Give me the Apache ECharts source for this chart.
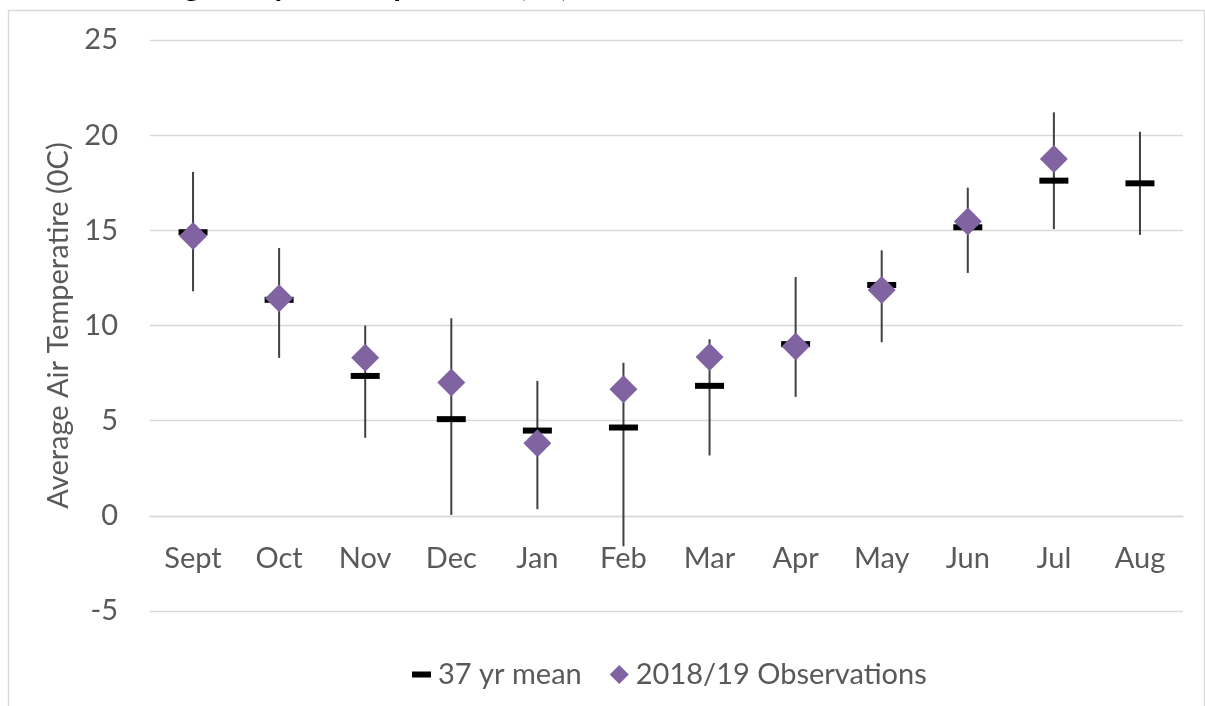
<!DOCTYPE html>
<html>
<head>
<meta charset="utf-8">
<script src="https://cdn.jsdelivr.net/npm/echarts@6/dist/echarts.min.js"></script>
<style>
html,body{margin:0;padding:0;background:#fff;}
#chart{width:1205px;height:706px;}
</style>
</head>
<body>
<div id="chart"></div>
<script>
const titleText = 'Average daily air temperature (°C)';
const yAxisName = 'Average Air Temperatire (0C)';
const categories = ['Sept','Oct','Nov','Dec','Jan','Feb','Mar','Apr','May','Jun','Jul','Aug'];
const meanValues = [14.9, 11.35, 7.35, 5.08, 4.48, 4.64, 6.83, 9.02, 12.13, 15.16, 17.61, 17.47];
const obsValues  = [14.7, 11.43, 8.3, 7.0, 3.82, 6.65, 8.35, 8.9, 11.87, 15.46, 18.75, null];
const rangeLow   = [11.8, 8.3, 4.1, 0.05, 0.35, -1.6, 3.17, 6.25, 9.12, 12.76, 15.06, 14.76];
const rangeHigh  = [18.07, 14.07, 10.0, 10.38, 7.09, 8.04, 9.28, 12.55, 13.95, 17.24, 21.2, 20.18];
const meanName = '37 yr mean';
const obsName = '2018/19 Observations';

const FONT = 'Lato';
const FS = 29;
const chart = echarts.init(document.getElementById('chart'), null, {renderer:'canvas'});
const option = {
  backgroundColor: '#fff',
  animation: false,
  graphic: [
    {type:'rect', left:6, top:8, shape:{width:1196, height:710}, style:{fill:'none', stroke:'#d9d9d9', lineWidth:1.3}, silent:true},
    {type:'text', x:104, y:-14, style:{text:titleText, font:'bold 31px ' + FONT, fill:'#000', verticalAlign:'middle'}, silent:true}
  ],
  grid: {left:150, right:22, top:40, bottom:95, containLabel:false},
  legend: {
    top: 655, left: 407,
    itemGap: 28,
    textStyle: {fontFamily: FONT, fontSize: FS, color: '#595959', padding:[0,0,0,2]},
    itemWidth: 19, itemHeight: 19,
    data: [
      {name: meanName, icon: 'path://M0,0 L19,0 L19,6 L0,6 Z'},
      {name: obsName, icon: 'diamond'}
    ]
  },
  xAxis: {
    type: 'category',
    data: categories,
    boundaryGap: true,
    offset: -95.17,
    axisLine: {show:true, onZero:false, lineStyle:{color:'#d9d9d9', width:1.3}},
    axisTick: {show:false},
    axisLabel: {fontFamily: FONT, fontSize: FS, color:'#595959', margin: 28},
    splitLine: {show:false}
  },
  yAxis: {
    type: 'value',
    min: -5, max: 25, interval: 5,
    name: yAxisName,
    nameLocation: 'middle',
    nameGap: 76,
    nameTextStyle: {fontFamily: FONT, fontSize: FS, color:'#595959'},
    axisLine: {show:false},
    axisTick: {show:false},
    axisLabel: {fontFamily: FONT, fontSize: FS, color:'#595959', margin: 32},
    splitLine: {lineStyle: {color:'#d9d9d9', width:1.3}}
  },
  series: [
    {
      type: 'custom',
      name: 'range',
      silent: true,
      z: 1,
      encode: {x:0, y:[1,2]},
      data: categories.map((c,i) => [i, rangeLow[i], rangeHigh[i]]),
      renderItem: function(params, api) {
        const x = api.value(0);
        const lo = api.coord([x, api.value(1)]);
        const hi = api.coord([x, api.value(2)]);
        return {type:'line', shape:{x1:lo[0], y1:lo[1], x2:hi[0], y2:hi[1]}, style:{stroke:'#404040', lineWidth:2}};
      }
    },
    {
      type: 'scatter',
      name: meanName,
      z: 2,
      symbol: 'rect',
      symbolSize: [29, 6],
      itemStyle: {color:'#000', opacity:1},
      data: meanValues
    },
    {
      type: 'scatter',
      name: obsName,
      z: 3,
      symbol: 'diamond',
      symbolSize: [28, 28],
      itemStyle: {color:'#8064A2', opacity:1},
      data: obsValues
    }
  ]
};
chart.setOption(option);
</script>
</body>
</html>
